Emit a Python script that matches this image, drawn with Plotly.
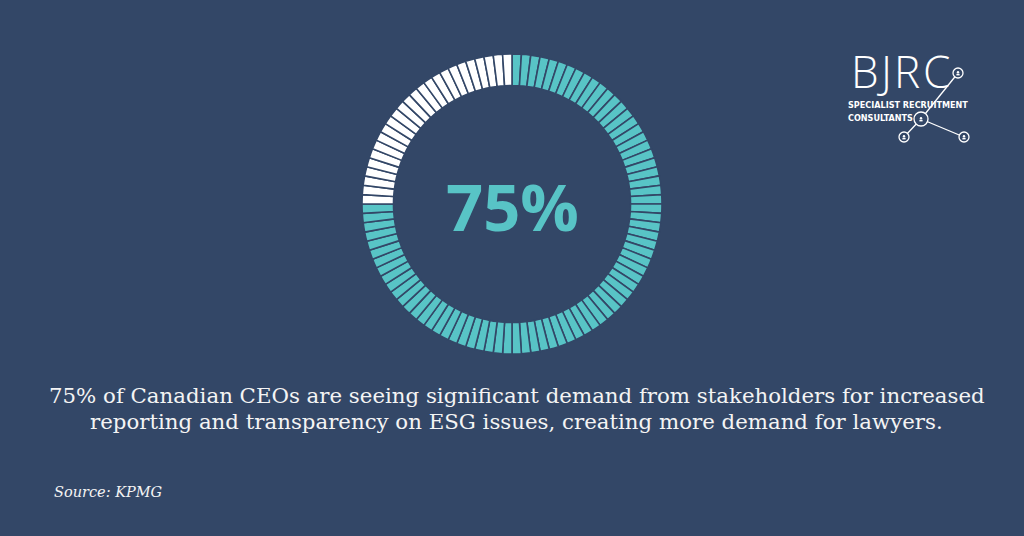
import plotly.graph_objects as go

# Data
share_pct = 75
segments = 100
values = [1] * segments
colors_teal = "#58C4C6"
colors_white = "#FFFFFF"
seg_colors = [colors_teal] * share_pct + [colors_white] * (segments - share_pct)
headline = "75%"
caption_lines = [
    "75% of Canadian CEOs are seeing significant demand from stakeholders for increased",
    "reporting and transparency on ESG issues, creating more demand for lawyers.",
]
source_text = "Source: KPMG"
logo_letters = ["B", "J", "R", "C"]
logo_letter_x = [849, 875, 892, 921]

BG = "#334767"
W, H = 1024, 536

fig = go.Figure()
fig.add_trace(go.Pie(
    values=values,
    marker=dict(colors=seg_colors, line=dict(color=BG, width=1.6)),
    hole=0.79,
    sort=False,
    direction="clockwise",
    rotation=0,
    textinfo="none",
    hoverinfo="skip",
    showlegend=False,
    domain=dict(x=[362 / W, 662 / W], y=[1 - 354 / H, 1 - 54 / H]),
))

def px(x):
    return x / W

def py(y):
    return 1 - y / H

ann = []
ann.append(dict(text=headline, x=px(512), y=py(206), xref="paper", yref="paper",
                showarrow=False, font=dict(family="Open Sans", size=65, color=colors_teal, weight="bold"),
                xanchor="center", yanchor="middle"))
for i, line in enumerate(caption_lines):
    ann.append(dict(text=line, x=px(517 if i == 0 else 516), y=py(395 + 26 * i), xref="paper", yref="paper",
                    showarrow=False, font=dict(family="DejaVu Serif", size=21.3, color="#F4F4F4"),
                    xanchor="center", yanchor="middle"))
ann.append(dict(text="<i>" + source_text + "</i>", x=px(52), y=py(492), xref="paper", yref="paper",
                showarrow=False, font=dict(family="DejaVu Serif", size=14.5, color="#F4F4F4"),
                xanchor="left", yanchor="middle"))
# Logo
for letter, lx in zip(logo_letters, logo_letter_x):
    ann.append(dict(text=letter, x=px(lx), y=py(71), xref="paper", yref="paper",
                    showarrow=False, font=dict(family="Open Sans", size=44, color="white", weight=300),
                    xanchor="left", yanchor="middle"))
ann.append(dict(text="SPECIALIST RECRUITMENT", x=px(846), y=py(105), xref="paper", yref="paper",
                showarrow=False, font=dict(family="Liberation Sans Narrow, DejaVu Sans Condensed", size=9, color="white", weight=700),
                xanchor="left", yanchor="middle"))
ann.append(dict(text="CONSULTANTS", x=px(846), y=py(118), xref="paper", yref="paper",
                showarrow=False, font=dict(family="Liberation Sans Narrow, DejaVu Sans Condensed", size=9, color="white", weight=700),
                xanchor="left", yanchor="middle"))

shapes = []
nodes = [(958, 73, 5), (921, 119, 7), (904, 137, 5), (964, 137, 5)]
links = [(0, 1), (1, 2), (1, 3)]
for a, b in links:
    shapes.append(dict(type="line", xref="paper", yref="paper",
                       x0=px(nodes[a][0]), y0=py(nodes[a][1]), x1=px(nodes[b][0]), y1=py(nodes[b][1]),
                       line=dict(color="white", width=1.3)))
for (cx, cy, r) in nodes:
    shapes.append(dict(type="circle", xref="paper", yref="paper",
                       x0=px(cx - r), x1=px(cx + r), y0=py(cy + r), y1=py(cy - r),
                       fillcolor=BG, line=dict(color="white", width=1.3)))
    shapes.append(dict(type="circle", xref="paper", yref="paper",
                       x0=px(cx - 1.2), x1=px(cx + 1.2), y0=py(cy + 0.4), y1=py(cy - 2.0),
                       fillcolor="white", line=dict(width=0)))
    shapes.append(dict(type="rect", xref="paper", yref="paper",
                       x0=px(cx - 1.6), x1=px(cx + 1.6), y0=py(cy + 2.4), y1=py(cy + 0.8),
                       fillcolor="white", line=dict(width=0)))

fig.update_layout(
    width=W, height=H,
    margin=dict(l=0, r=0, t=0, b=0),
    paper_bgcolor=BG, plot_bgcolor=BG,
    annotations=ann, shapes=shapes,
)
fig.write_html("out.html", config={"displayModeBar": False},
               post_script="document.body.style.margin='0';document.body.style.background='%s';" % BG)
